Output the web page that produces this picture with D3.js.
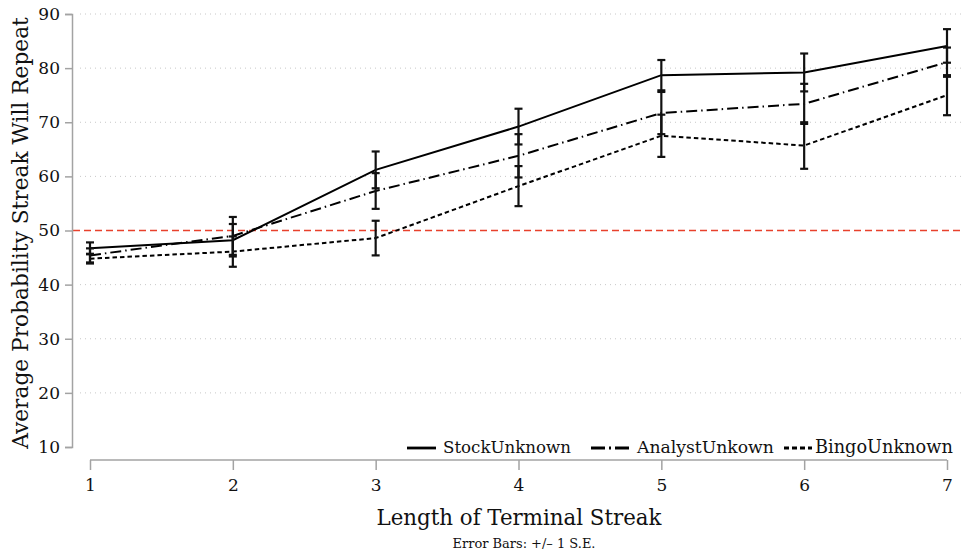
<!DOCTYPE html>
<html>
<head>
<meta charset="utf-8">
<script src="https://cdn.jsdelivr.net/npm/d3@7"></script>
<style>
  body { margin: 0; background: #fff; }
  svg { display: block; font-family: "DejaVu Serif", "Liberation Serif", serif; }
</style>
</head>
<body>
<svg id="chart" width="963" height="552"></svg>
<script>
"use strict";
var streakLengths = [1, 2, 3, 4, 5, 6, 7];
var yTicks = [10, 20, 30, 40, 50, 60, 70, 80, 90];
var stockMean = [46.7, 48.2, 61.2, 69.2, 78.7, 79.2, 84.1];
var stockSE = [1.1, 3.0, 3.4, 3.3, 2.8, 3.5, 3.1];
var analystMean = [45.4, 49.0, 57.3, 63.8, 71.7, 73.4, 81.1];
var analystSE = [1.3, 3.5, 3.3, 4.0, 3.9, 3.7, 2.7];
var bingoMean = [44.8, 46.1, 48.6, 58.2, 67.5, 65.7, 75.0];
var bingoSE = [0.9, 2.8, 3.2, 3.7, 3.9, 4.3, 3.7];
var chanceLevel = 50;

var seriesList = [
    { name: 'StockUnknown', mean: stockMean, se: stockSE, dash: null, key: null },
    { name: 'AnalystUnkown', mean: analystMean, se: analystSE, dash: '11,4,1.5,4', key: '14,4,2,4' },
    { name: 'BingoUnknown', mean: bingoMean, se: bingoSE, dash: '4.5,3', key: '5,3' }
];

var svg = d3.select('#chart');
var x = d3.scaleLinear().domain([1, 7]).range([90, 947]);
var y = d3.scaleLinear().domain([10, 90]).range([447, 14]);
var axisGrey = '#a3a3a3';

// fit a text node to a target width by changing its font size
function fitWidth(sel, width) {
    var size = parseFloat(sel.attr('font-size'));
    var w = sel.node().getComputedTextLength();
    sel.attr('font-size', size * width / w);
}

// grid
svg.append('g').selectAll('line')
    .data(yTicks.filter(function (t) { return t !== 10 && t !== chanceLevel; }))
    .enter().append('line')
    .attr('x1', 80).attr('x2', 963)
    .attr('y1', function (d) { return y(d); })
    .attr('y2', function (d) { return y(d); })
    .attr('stroke', '#c8c8c8')
    .attr('stroke-width', 1)
    .attr('stroke-dasharray', '1,4');

svg.append('line')
    .attr('x1', 73).attr('x2', 963)
    .attr('y1', y(chanceLevel)).attr('y2', y(chanceLevel))
    .attr('stroke', '#e8412c')
    .attr('stroke-width', 1.3)
    .attr('stroke-dasharray', '7,4');

// series lines
var line = d3.line()
    .x(function (d, i) { return x(streakLengths[i]); })
    .y(function (d) { return y(d); });

seriesList.forEach(function (s) {
    svg.append('path')
        .datum(s.mean)
        .attr('d', line)
        .attr('fill', 'none')
        .attr('stroke', '#000')
        .attr('stroke-width', 2)
        .attr('stroke-dasharray', s.dash);
});

// error bars
seriesList.forEach(function (s) {
    var g = svg.append('g').attr('stroke', '#111').attr('stroke-width', 2.2);
    var bars = g.selectAll('g').data(s.mean).enter().append('g');
    bars.append('line')
        .attr('x1', function (d, i) { return x(streakLengths[i]); })
        .attr('x2', function (d, i) { return x(streakLengths[i]); })
        .attr('y1', function (d, i) { return y(d - s.se[i]); })
        .attr('y2', function (d, i) { return y(d + s.se[i]); });
    [-1, 1].forEach(function (sign) {
        bars.append('line')
            .attr('x1', function (d, i) { return x(streakLengths[i]) - 4; })
            .attr('x2', function (d, i) { return x(streakLengths[i]) + 4; })
            .attr('y1', function (d, i) { return y(d + sign * s.se[i]); })
            .attr('y2', function (d, i) { return y(d + sign * s.se[i]); });
    });
});

// axes
var yAxis = svg.append('g')
    .attr('transform', 'translate(72,0)')
    .call(d3.axisLeft(y).tickValues(yTicks).tickSize(7).tickPadding(5));
var xAxis = svg.append('g')
    .attr('transform', 'translate(0,460)')
    .call(d3.axisBottom(x).tickValues(streakLengths).tickFormat(d3.format('d')).tickSize(10).tickPadding(9));
[yAxis, xAxis].forEach(function (a) {
    a.select('.domain').attr('stroke', axisGrey).attr('stroke-width', 1.5);
    a.selectAll('.tick line').attr('stroke', axisGrey).attr('stroke-width', 1.5);
    a.selectAll('.tick text')
        .attr('fill', '#111')
        .style('font-family', '"DejaVu Serif", serif')
        .style('font-size', '17px');
});
xAxis.select('.domain').attr('d', 'M' + x(1) + ',0H' + x(7));

// titles
var yTitle = svg.append('text')
    .attr('transform', 'translate(28,233) rotate(-90)')
    .attr('text-anchor', 'middle')
    .attr('font-size', 21)
    .attr('fill', '#111')
    .text('Average Probability Streak Will Repeat');
fitWidth(yTitle, 432);

var xTitle = svg.append('text')
    .attr('x', 519).attr('y', 525)
    .attr('text-anchor', 'middle')
    .attr('font-size', 21)
    .attr('fill', '#111')
    .text('Length of Terminal Streak');
fitWidth(xTitle, 285);

var note = svg.append('text')
    .attr('x', 524).attr('y', 548)
    .attr('text-anchor', 'middle')
    .attr('font-size', 10)
    .attr('fill', '#111')
    .text('Error Bars: +/\u2013 1 S.E.');
fitWidth(note, 143);

// legend
var keyX = [407, 591, 784];
var keyLen = [29, 39, 28];
var keyLabelX = [443, 637, 815];
var keyLabelW = [128, 137, 138];
var legendY = 447;
seriesList.forEach(function (s, i) {
    svg.append('line')
        .attr('x1', keyX[i]).attr('x2', keyX[i] + keyLen[i])
        .attr('y1', legendY + 1).attr('y2', legendY + 1)
        .attr('stroke', '#000')
        .attr('stroke-width', 2.8)
        .attr('stroke-dasharray', s.key);
    var t = svg.append('text')
        .attr('x', keyLabelX[i]).attr('y', legendY + 6)
        .attr('font-size', 17)
        .attr('fill', '#111')
        .text(s.name);
    fitWidth(t, keyLabelW[i]);
});
</script>
</body>
</html>
